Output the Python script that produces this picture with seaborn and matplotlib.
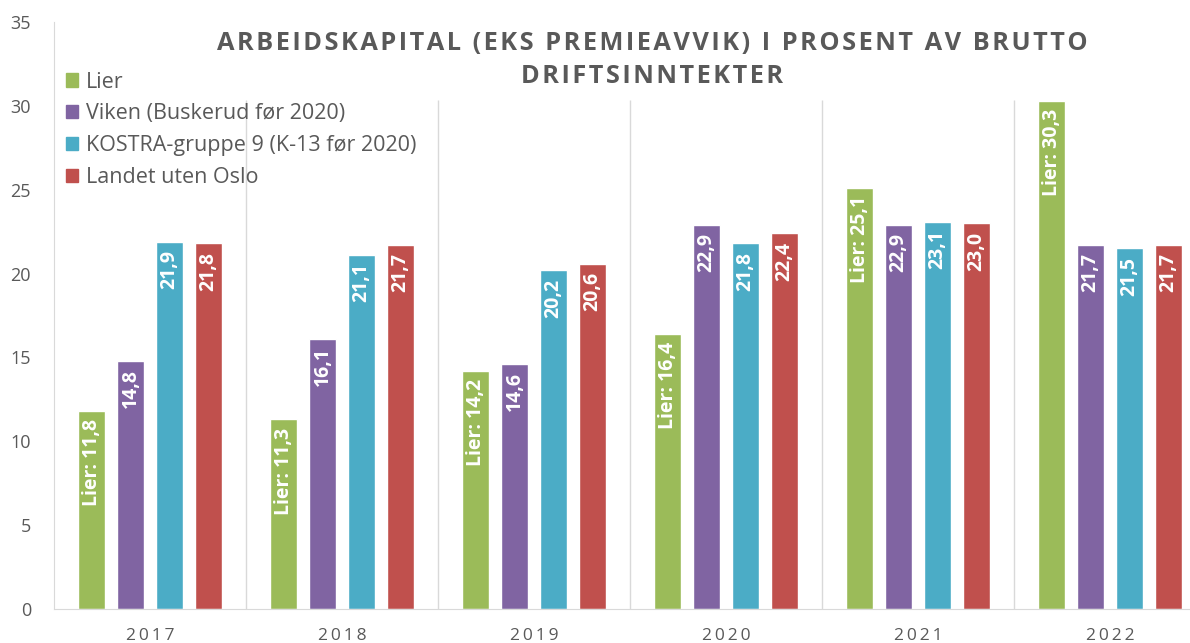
import matplotlib
matplotlib.use("Agg")
import matplotlib.pyplot as plt
from matplotlib.patches import Patch
import seaborn as sns
import pandas as pd

years = ["2017", "2018", "2019", "2020", "2021", "2022"]
series = ["Lier", "Viken (Buskerud før 2020)", "KOSTRA-gruppe 9 (K-13 før 2020)", "Landet uten Oslo"]
lier = [11.8, 11.3, 14.2, 16.4, 25.1, 30.3]
viken = [14.8, 16.1, 14.6, 22.9, 22.9, 21.7]
kostra = [21.9, 21.1, 20.2, 21.8, 23.1, 21.5]
landet = [21.8, 21.7, 20.6, 22.4, 23.0, 21.7]
colors = ["#9BBB59", "#8064A2", "#4BACC6", "#C0504D"]
title_lines = ["ARBEIDSKAPITAL (EKS PREMIEAVVIK) I PROSENT AV BRUTTO", "DRIFTSINNTEKTER"]
yticks = [0, 5, 10, 15, 20, 25, 30, 35]

sns.set_style("white")
plt.rcParams["font.family"] = ["Open Sans", "DejaVu Sans"]

rows = []
for s, vals in zip(series, [lier, viken, kostra, landet]):
    for y, v in zip(years, vals):
        rows.append({"year": y, "series": s, "value": v})
df = pd.DataFrame(rows)

fig = plt.figure(figsize=(11.9, 6.43), dpi=100)
ax = fig.add_axes([54 / 1190, 34 / 643, (1206 - 54) / 1190, (609 - 22) / 643])

sns.barplot(data=df, x="year", y="value", hue="series", order=years, hue_order=series,
            palette=colors, width=0.81, gap=0.3, saturation=1, ax=ax, legend=False,
            errorbar=None)

ax.set_xlim(-0.5, len(years) - 0.5)
ax.set_ylim(0, 35)
ax.set_yticks(yticks)
ax.set_xlabel("")
ax.set_ylabel("")
gray = "#D9D9D9"
txt = "#595959"
for sp in ["top", "right"]:
    ax.spines[sp].set_visible(False)
ax.spines["left"].set_color(gray)
ax.spines["bottom"].set_color(gray)
ax.tick_params(axis="y", length=6, color=gray, labelsize=13, labelcolor=txt, pad=10.5)
ax.tick_params(axis="x", length=0, labelsize=12.5, labelcolor=txt, pad=14)
ax.set_xticks(range(len(years)))
ax.set_xticklabels(["\u2009".join(list(y)) for y in years])

ax.vlines([i + 0.5 for i in range(len(years))], 0, 30.35, colors=gray, lw=1, zorder=0)

for k, cont in enumerate(ax.containers):
    for bar, v in zip(cont, [lier, viken, kostra, landet][k]):
        s = f"{v:.1f}".replace(".", ",")
        if k == 0:
            s = "Lier: " + s
        ax.annotate(s, (bar.get_x() + bar.get_width() / 2, bar.get_height()),
                    xytext=(0, -6), textcoords="offset points", rotation=90,
                    ha="center", va="top", color="white", fontsize=14, fontweight="bold")

handles = [Patch(color=c) for c in colors]
fig.legend(handles, series, loc="upper left", bbox_to_anchor=(57 / 1190, 1 - 63 / 643),
           frameon=False, fontsize=15.5, labelcolor=txt, handlelength=0.58, handleheight=0.58,
           handletextpad=0.35, labelspacing=0.5, borderaxespad=0)

hair = "\u200a"
title = "\n".join(hair.join(list(line)) for line in title_lines)
fig.text(652 / 1190, 1 - 60 / 643, title, ha="center", va="center", fontsize=18.3,
         fontweight="bold", color=txt, linespacing=1.4,
         family=["Open Sans", "DejaVu Sans"])

fig.savefig("out.png", dpi=100)
